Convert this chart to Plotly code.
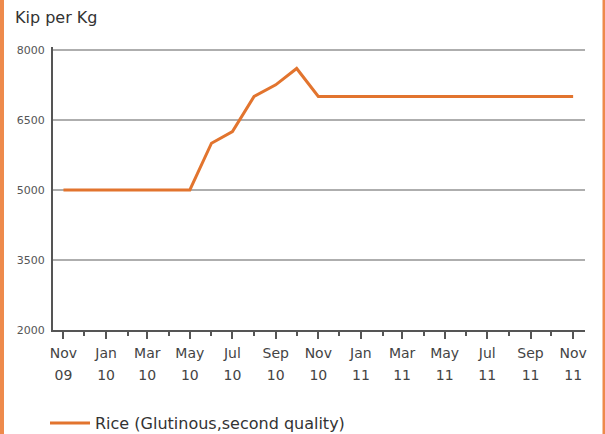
import plotly.graph_objects as go

months = ["2009-11-01", "2009-12-01", "2010-01-01", "2010-02-01", "2010-03-01", "2010-04-01",
          "2010-05-01", "2010-06-01", "2010-07-01", "2010-08-01", "2010-09-01", "2010-10-01",
          "2010-11-01", "2010-12-01", "2011-01-01", "2011-02-01", "2011-03-01", "2011-04-01",
          "2011-05-01", "2011-06-01", "2011-07-01", "2011-08-01", "2011-09-01", "2011-10-01",
          "2011-11-01"]
rice_price = [5000, 5000, 5000, 5000, 5000, 5000,
              5000, 6000, 6250, 7000, 7250, 7600,
              7000, 7000, 7000, 7000, 7000, 7000,
              7000, 7000, 7000, 7000, 7000, 7000,
              7000]
series_name = "Rice (Glutinous,second quality)"
tick_dates = ["2009-11-01", "2010-01-01", "2010-03-01", "2010-05-01", "2010-07-01", "2010-09-01",
              "2010-11-01", "2011-01-01", "2011-03-01", "2011-05-01", "2011-07-01", "2011-09-01",
              "2011-11-01"]
tick_months = ["Nov", "Jan", "Mar", "May", "Jul", "Sep", "Nov", "Jan", "Mar", "May", "Jul", "Sep", "Nov"]
tick_years = ["09", "10", "10", "10", "10", "10", "10", "11", "11", "11", "11", "11", "11"]
y_ticks = [2000, 3500, 5000, 6500, 8000]
y_title = "Kip per Kg"

ORANGE = "#E2742E"
FONT = "DejaVu Sans"
x_range = ["2009-10-17", "2011-11-18"]

fig = go.Figure()
fig.add_trace(go.Scatter(x=months, y=rice_price, mode="lines", name=series_name,
                         line=dict(color=ORANGE, width=3), xaxis="x", yaxis="y"))
fig.add_trace(go.Scatter(x=months, y=rice_price, mode="lines", showlegend=False,
                         line=dict(width=0), opacity=0, xaxis="x2", yaxis="y", hoverinfo="skip"))

T, B = 47, 104
H = 434 - T - B

fig.update_layout(
    width=605, height=434,
    margin=dict(l=53, r=20, t=T, b=B),
    paper_bgcolor="white", plot_bgcolor="white",
    showlegend=True,
    legend=dict(orientation="h", xref="container", yref="container",
                x=45 / 605, y=1 - 406 / 434, xanchor="left", yanchor="top",
                font=dict(family=FONT, size=16, color="#333"), itemwidth=40,
                bgcolor="rgba(0,0,0,0)"),
    xaxis=dict(type="date", range=x_range, tickvals=tick_dates, ticktext=tick_months,
               showgrid=False, showline=True, linecolor="#555", linewidth=2,
               ticks="outside", ticklen=7, tickwidth=2, tickcolor="#555",
               ticklabelstandoff=2,
               minor=dict(ticks="outside", ticklen=4, tickwidth=2, tickcolor="#555",
                          dtick="M1", tick0="2009-11-01"),
               tickfont=dict(family=FONT, size=14, color="#444"), zeroline=False),
    xaxis2=dict(type="date", range=x_range, tickvals=tick_dates, ticktext=tick_years,
                overlaying="x", side="bottom", anchor="y", showgrid=False, showline=False,
                ticks="outside", ticklen=32, tickcolor="rgba(0,0,0,0)",
                tickfont=dict(family=FONT, size=14, color="#444"), zeroline=False),
    yaxis=dict(range=[2000, 8060], tickvals=y_ticks, ticktext=[str(v) for v in y_ticks],
               showgrid=True, gridcolor="#AEAEAE", gridwidth=2,
               showline=True, linecolor="#555", linewidth=2, ticks="outside", ticklen=4,
               tickcolor="rgba(0,0,0,0)",
               tickfont=dict(family=FONT, size=11, color="#555"), zeroline=False),
    annotations=[dict(text=y_title, xref="paper", yref="paper",
                      x=(13 - 53) / 532, y=1 + (T - 18) / H, xanchor="left", yanchor="middle",
                      showarrow=False, font=dict(family=FONT, size=16, color="#333"))],
    shapes=[
        dict(type="line", xref="paper", yref="paper",
             x0=(2 - 53) / 532, x1=(2 - 53) / 532, y0=-B / H, y1=1 + T / H,
             line=dict(color="#EE8A4C", width=4)),
        dict(type="line", xref="paper", yref="paper",
             x0=(604 - 53) / 532, x1=(604 - 53) / 532, y0=-B / H, y1=1 + T / H,
             line=dict(color="#EE8A4C", width=3)),
    ],
)

fig.write_html("out.html", config={"displayModeBar": False},
               post_script="document.body.style.margin='0';")
